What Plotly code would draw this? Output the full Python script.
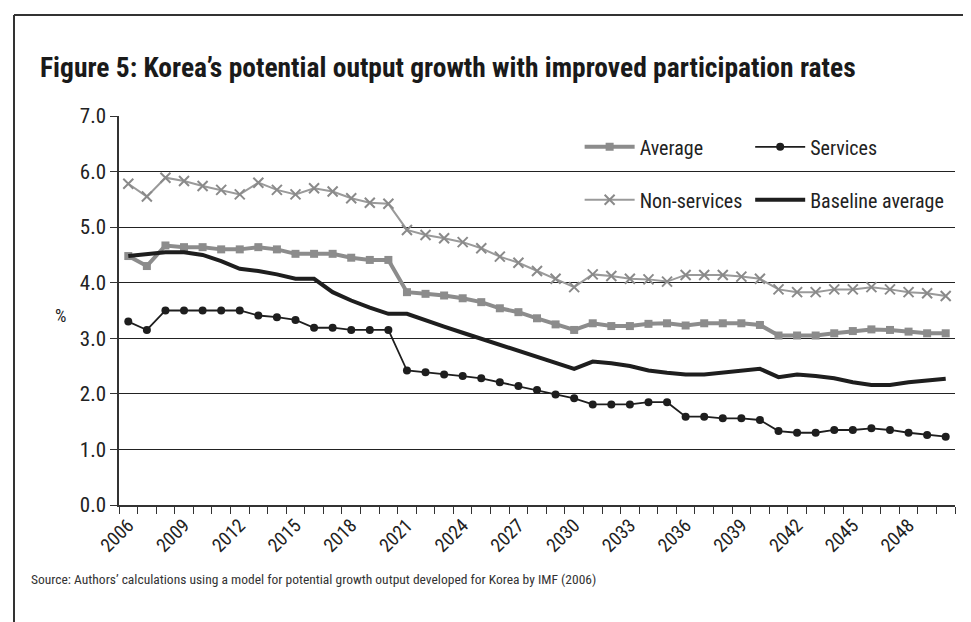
import plotly.graph_objects as go

# categorias (anos) e valores
years = list(range(2006, 2051))
tick_years = [2006, 2009, 2012, 2015, 2018, 2021, 2024, 2027, 2030, 2033, 2036, 2039, 2042, 2045, 2048]

average = [4.48, 4.30, 4.67, 4.64, 4.64, 4.60, 4.60, 4.64, 4.60, 4.52, 4.52, 4.52, 4.45, 4.41, 4.41,
           3.83, 3.80, 3.77, 3.72, 3.65, 3.54, 3.47, 3.36, 3.25, 3.15,
           3.27, 3.22, 3.22, 3.26, 3.27, 3.23, 3.27, 3.27, 3.27, 3.24,
           3.05, 3.05, 3.05, 3.09, 3.13, 3.16, 3.15, 3.12, 3.09, 3.09]
services = [3.30, 3.15, 3.50, 3.50, 3.50, 3.50, 3.50, 3.41, 3.38, 3.33, 3.19, 3.19, 3.15, 3.15, 3.15,
            2.42, 2.39, 2.35, 2.32, 2.28, 2.21, 2.14, 2.07, 1.99, 1.92,
            1.81, 1.81, 1.81, 1.85, 1.85, 1.59, 1.59, 1.56, 1.56, 1.53,
            1.33, 1.30, 1.30, 1.35, 1.35, 1.38, 1.35, 1.30, 1.26, 1.23]
non_services = [5.78, 5.55, 5.89, 5.83, 5.74, 5.67, 5.59, 5.80, 5.67, 5.59, 5.70, 5.64, 5.52, 5.44, 5.42,
                4.95, 4.86, 4.80, 4.73, 4.62, 4.47, 4.36, 4.21, 4.07, 3.92,
                4.15, 4.12, 4.07, 4.06, 4.02, 4.14, 4.14, 4.14, 4.11, 4.07,
                3.88, 3.83, 3.83, 3.88, 3.88, 3.92, 3.88, 3.83, 3.81, 3.76]
baseline = [4.48, 4.51, 4.55, 4.55, 4.50, 4.39, 4.25, 4.21, 4.15, 4.07, 4.07, 3.83, 3.68, 3.55, 3.44,
            3.44, 3.32, 3.21, 3.10, 2.99, 2.88, 2.77, 2.67, 2.56, 2.45,
            2.58, 2.55, 2.50, 2.42, 2.38, 2.35, 2.35, 2.38, 2.42, 2.45,
            2.30, 2.35, 2.32, 2.28, 2.21, 2.16, 2.16, 2.21, 2.24, 2.27]

FONT = "Liberation Sans Narrow, Roboto Condensed, DejaVu Sans Condensed, Arial Narrow, sans-serif"
GRAY = "#8c8c8c"
BLACK = "#1e1e1e"

fig = go.Figure()

# legenda em duas colunas: coluna 1 = legend, coluna 2 = legend2
fig.add_trace(go.Scatter(x=years, y=average, name="Average", mode="lines+markers",
                         line=dict(color=GRAY, width=4),
                         marker=dict(symbol="square", size=8, color=GRAY),
                         legend="legend", legendgroup="a", legendrank=1))
fig.add_trace(go.Scatter(x=years, y=non_services, name="Non-services", mode="lines+markers",
                         line=dict(color="#9a9a9a", width=2),
                         marker=dict(symbol="x-thin-open", size=10, color="#8a8a8a",
                                     line=dict(width=2, color="#8a8a8a")),
                         legend="legend", legendgroup="b", legendrank=2))
fig.add_trace(go.Scatter(x=years, y=baseline, name="Baseline average", mode="lines",
                         line=dict(color=BLACK, width=4),
                         legend="legend2", legendgroup="d", legendrank=2))
fig.add_trace(go.Scatter(x=years, y=services, name="Services", mode="lines+markers",
                         line=dict(color=BLACK, width=1.8),
                         marker=dict(symbol="circle", size=8, color=BLACK),
                         legend="legend2", legendgroup="c", legendrank=1))

legend_style = dict(orientation="v", xanchor="left", yanchor="top",
                    font=dict(family=FONT, size=20, color="#222"),
                    bgcolor="rgba(0,0,0,0)", itemwidth=50, tracegroupgap=24,
                    traceorder="grouped")

fig.update_layout(
    width=971, height=622,
    paper_bgcolor="white", plot_bgcolor="white",
    margin=dict(l=111, r=24, t=108, b=125),
    font=dict(family=FONT, color="#222"),
    showlegend=True,
    legend=dict(x=0.551, y=0.971, **legend_style),
    legend2=dict(x=0.755, y=0.971, **legend_style),
    title=dict(text="<b>Figure 5: Korea’s potential output growth with improved participation rates</b>",
               x=0.033, xanchor="left", y=0.905, yanchor="middle",
               font=dict(family=FONT, size=27.5, color="#1a1a1a")),
)

fig.update_xaxes(range=[2005.5, 2050.5], tickmode="array", tickvals=tick_years,
                 ticktext=[str(t) for t in tick_years], tickangle=-45, ticks="",
                 tickfont=dict(family=FONT, size=19, color="#222"),
                 showgrid=False, zeroline=False, showline=True, linecolor="#333", linewidth=1.5,
                 minor=dict(tickmode="linear", tick0=2005.5, dtick=1, ticks="outside",
                            ticklen=7, tickcolor="#333", tickwidth=1, showgrid=False))
fig.update_yaxes(range=[0, 7], dtick=1, tickformat=".1f", ticks="outside", ticklen=7,
                 tickcolor="#333", tickfont=dict(family=FONT, size=21, color="#222"),
                 showgrid=True, gridcolor="#222", gridwidth=1, zeroline=False,
                 showline=True, linecolor="#333", linewidth=1.5)

fig.add_annotation(text="%", xref="paper", yref="paper", x=-0.079, y=0.488,
                   showarrow=False, font=dict(family=FONT, size=18, color="#222"))
fig.add_annotation(text="Source: Authors’ calculations using a model for potential growth output developed for Korea by IMF (2006)",
                   xref="paper", yref="paper", x=-0.108, y=-0.19, xanchor="left", yanchor="middle",
                   showarrow=False, font=dict(family=FONT, size=13.5, color="#333"))

# moldura (só esquerda e topo visíveis)
fig.add_shape(type="line", xref="paper", yref="paper", x0=-0.1256, x1=-0.1256, y0=-0.35, y1=1.2596,
              line=dict(color="#333", width=2))
fig.add_shape(type="line", xref="paper", yref="paper", x0=-0.1256, x1=1.03, y0=1.2596, y1=1.2596,
              line=dict(color="#333", width=2))

fig.write_html("out.html")
